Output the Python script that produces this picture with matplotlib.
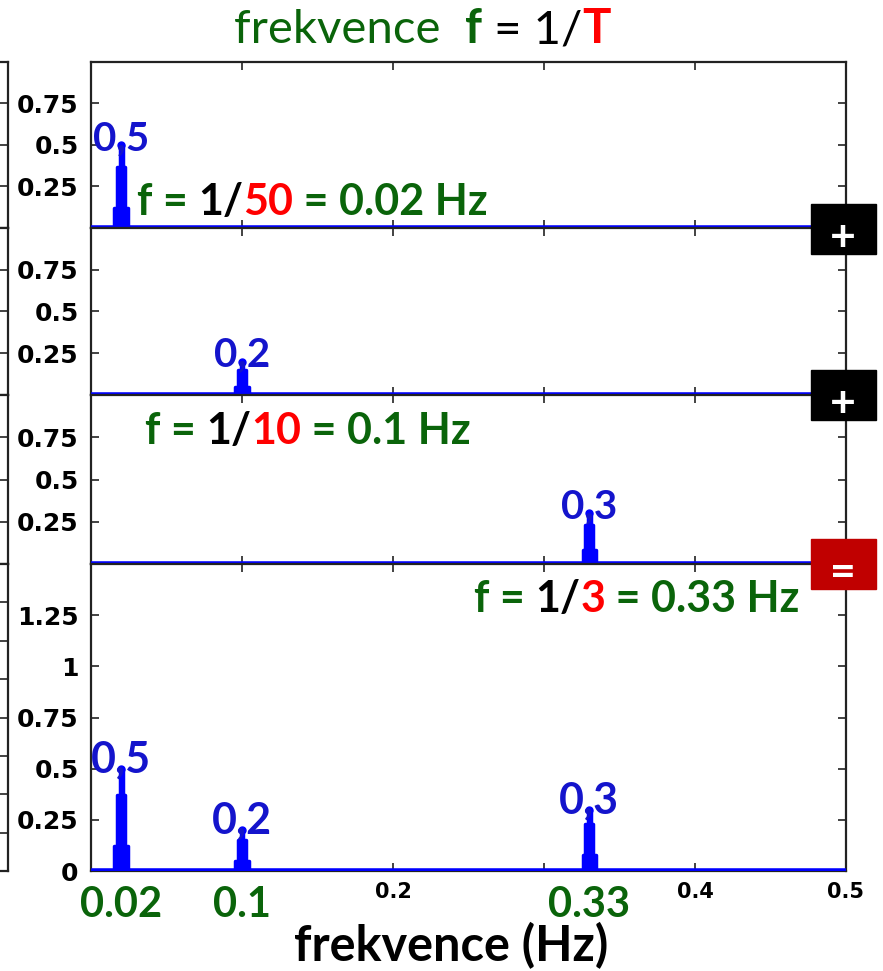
import matplotlib
matplotlib.use("Agg")
import matplotlib.pyplot as plt
import matplotlib.transforms as mtransforms
from matplotlib.patches import Rectangle
import numpy as np

# ---------------- data ----------------
peak_freqs = [0.02, 0.1, 0.33]          # Hz
peak_amps = [0.5, 0.2, 0.3]
shoulder_amps = [0.37, 0.15, 0.23]
base_amps = [0.12, 0.05, 0.08]
peak_labels = ["0,5", "0,2", "0,3"]
periods = ["50", "10", "3"]
freq_texts = ["0.02", "0.1", "0.33"]
top_yticks = [0.25, 0.5, 0.75]
top_yticklabels = ["0.25", "0.5", "0.75"]
sum_yticks = [0, 0.25, 0.5, 0.75, 1.0, 1.25]
sum_yticklabels = ["0", "0.25", "0.5", "0.75", "1", "1.25"]
xticks = [0.1, 0.2, 0.3, 0.4, 0.5]
xticklabels = ["", "0.2", "", "0.4", "0.5"]
bin_w = 0.0018

GREEN = "#0a640a"
BLUE = "#0000ff"
TBLUE = "#1414cc"
RED = "#ff0000"
BOXRED = "#c00000"
FONT = "Lato"

W, H = 883, 971
fig = plt.figure(figsize=(W / 100, H / 100), dpi=100)

def fx(px):
    return px / W

def fy(py):
    return 1 - py / H

left, right = 91, 846
rows = [(62, 228), (228, 395), (395, 564), (564, 871)]
axes = []
for (t, b) in rows:
    ax = fig.add_axes([fx(left), fy(b), fx(right - left), (b - t) / H])
    axes.append(ax)

def peak_shape(f, a, s, b):
    xs = [f - 3 * bin_w, f - 2 * bin_w, f - bin_w, f, f + bin_w, f + 2 * bin_w, f + 3 * bin_w]
    ys = [0, b, s, a, s, b, 0]
    return np.array(xs), np.array(ys)

def style(ax, ylim, yt, ytl, bottom=False):
    ax.set_xlim(0, 0.5)
    ax.set_ylim(*ylim)
    ax.set_yticks(yt)
    ax.set_yticklabels(ytl)
    ax.set_xticks(xticks)
    if bottom:
        ax.set_xticklabels(xticklabels)
    else:
        ax.set_xticklabels([])
    ax.tick_params(direction="in", length=6, width=1.2, top=True, right=True,
                   colors="#222222")
    ax.tick_params(axis="y", pad=9)
    ax.tick_params(axis="x", pad=8)
    for lab in ax.get_yticklabels():
        lab.set_fontfamily("DejaVu Sans")
        lab.set_fontweight("bold")
        lab.set_fontsize(18)
        lab.set_color("black")
    for lab in ax.get_xticklabels():
        lab.set_fontfamily("DejaVu Sans")
        lab.set_fontweight("bold")
        lab.set_fontsize(15)
        lab.set_color("black")
    for sp in ax.spines.values():
        sp.set_linewidth(1.6)
        sp.set_color("#222222")
    ax.axhline(0, color=BLUE, lw=4, zorder=3)

def draw_peak(ax, i, lab_size, dy):
    xs, ys = peak_shape(peak_freqs[i], peak_amps[i], shoulder_amps[i], base_amps[i])
    ax.fill_between(xs, ys, step="mid", color=BLUE, lw=0, zorder=4)
    ax.step(xs, ys, where="mid", color=BLUE, lw=2.5, solid_capstyle="round", zorder=4)
    ax.plot([peak_freqs[i]], [peak_amps[i]], "o", color=BLUE, ms=5, zorder=4)
    ax.text(peak_freqs[i], peak_amps[i] - dy, peak_labels[i], ha="center", va="baseline",
            fontsize=lab_size, fontweight="bold", family=FONT, color=TBLUE, zorder=5)

for i in range(3):
    style(axes[i], (0, 1), top_yticks, top_yticklabels)
    draw_peak(axes[i], i, 29, 0.03)
style(axes[3], (0, 1.5), sum_yticks, sum_yticklabels, bottom=True)
for i in range(3):
    draw_peak(axes[3], i, 31, 0.02)

# partial neighbouring chart at the left edge
for k, (t, b) in enumerate(rows):
    lax = fig.add_axes([fx(-40), fy(b), fx(48), (b - t) / H])
    lax.set_xlim(0, 1)
    if k < 3:
        lax.set_ylim(0, 1)
        lax.set_yticks(top_yticks)
    else:
        lax.set_ylim(0, 8)
        lax.set_yticks([1, 2, 3, 4, 5, 6, 7])
    lax.set_xticks([])
    lax.yaxis.tick_right()
    lax.tick_params(axis="y", direction="in", length=7, width=1.2, labelright=False,
                    colors="#222222")
    for sp in lax.spines.values():
        sp.set_linewidth(1.6)
        sp.set_color("#222222")

fig.canvas.draw()
renderer = fig.canvas.get_renderer()

def rainbow(x, y, parts, size, ha="left"):
    """parts: list of (text, color, weight). x,y in pixels from top-left."""
    texts = []
    trans = fig.transFigure
    total = 0
    for s, c, w in parts:
        t = fig.text(fx(x), fy(y), s, color=c, fontsize=size, fontweight=w, family=FONT,
                     va="baseline", ha="left", transform=trans)
        t.draw(renderer)
        ex = t.get_window_extent(renderer)
        trans = mtransforms.offset_copy(trans, fig=fig, x=ex.width, units="dots")
        total += ex.width
        texts.append(t)
    if ha == "center":
        for t in texts:
            t.set_transform(mtransforms.offset_copy(t.get_transform(), fig=fig,
                                                    x=-total / 2, units="dots"))
    return texts

# title
rainbow(422, 43, [("frekvence  ", GREEN, "normal"), ("f", GREEN, "bold"),
                  (" = 1/", "black", "normal"), ("T", RED, "bold")], 34, ha="center")

# formula annotations
rainbow(137, 215, [("f = ", GREEN, "bold"), ("1/", "black", "bold"), (periods[0], RED, "bold"),
                   (" = 0.02 Hz", GREEN, "bold")], 31)
rainbow(145, 444, [("f = ", GREEN, "bold"), ("1/", "black", "bold"), (periods[1], RED, "bold"),
                   (" = 0.1 Hz", GREEN, "bold")], 31)
rainbow(474, 612, [("f = ", GREEN, "bold"), ("1/", "black", "bold"), (periods[2], RED, "bold"),
                   (" = 0.33 Hz", GREEN, "bold")], 31)

# green frequency labels under the axis
ax4 = axes[3]
for f, s in zip(peak_freqs, freq_texts):
    ax4.annotate(s, xy=(f, 0), xycoords="data", xytext=(0, -33), textcoords="offset points",
                 ha="center", va="baseline", fontsize=30, fontweight="bold", family=FONT,
                 color=GREEN, annotation_clip=False)

fig.text(fx(451), fy(961), "frekvence (Hz)", ha="center", va="baseline", fontsize=35,
         fontweight="bold", family=FONT, color="black")

# operator boxes
for (y0, y1, sym, col) in [(204, 254, "+", "black"), (370, 420, "+", "black"),
                            (539, 589, "=", BOXRED)]:
    fig.add_artist(Rectangle((fx(811), fy(y1)), fx(876) - fx(811), fy(y0) - fy(y1),
                             transform=fig.transFigure, color=col, zorder=10))
    fig.text(fx(843), fy(y1 - 3), sym, ha="center", va="baseline", fontsize=32,
             fontweight="bold", family=FONT, color="white", zorder=11)

fig.savefig("out.png", dpi=100)
